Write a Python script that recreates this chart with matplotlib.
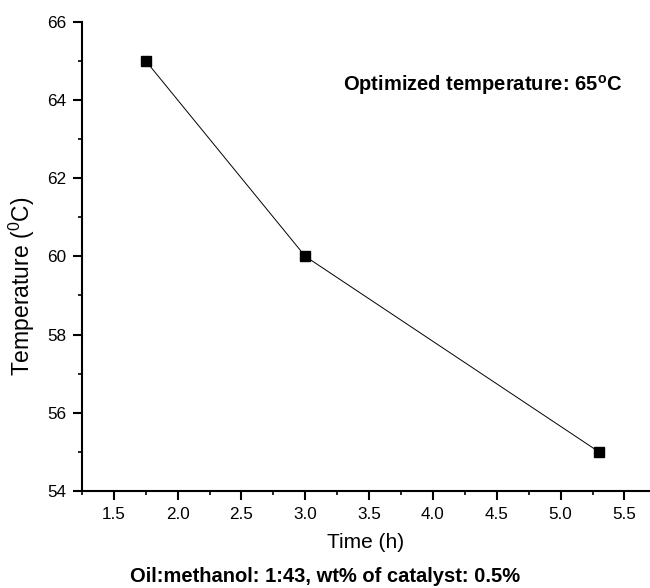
import matplotlib
matplotlib.use('Agg')
import matplotlib.pyplot as plt
from matplotlib.ticker import MultipleLocator

plt.rcParams['font.family'] = ['Liberation Sans', 'DejaVu Sans']
plt.rcParams['mathtext.fontset'] = 'custom'
plt.rcParams['mathtext.rm'] = 'Liberation Sans'
plt.rcParams['mathtext.bf'] = 'Liberation Sans:bold'

# datos
time_h = [1.75, 3.0, 5.3]
temp_c = [65, 60, 55]

fig = plt.figure(figsize=(6.5, 5.88), dpi=100)
ax = fig.add_axes([0.126, 0.165, 0.874, 0.798])

ax.plot(time_h, temp_c, color='black', linewidth=0.7, marker='s',
        markersize=7, markerfacecolor='black', markeredgecolor='black')

ax.set_xlim(1.25, 5.7)
ax.set_ylim(54, 66)
ax.xaxis.set_major_locator(MultipleLocator(0.5))
ax.xaxis.set_minor_locator(MultipleLocator(0.25))
ax.yaxis.set_major_locator(MultipleLocator(2))
ax.yaxis.set_minor_locator(MultipleLocator(1))

for s in ['top', 'right']:
    ax.spines[s].set_visible(False)
for s in ['left', 'bottom']:
    ax.spines[s].set_linewidth(1.5)

ax.tick_params(which='major', direction='out', length=6.5, width=1.5,
               labelsize=12.3, pad=5)
ax.tick_params(which='minor', direction='out', length=3, width=1.2)

ax.set_xlabel('Time (h)', fontsize=15, labelpad=8)
ax.set_ylabel('Temperature ($\\mathregular{^0}$C)', fontsize=16.5)
ax.yaxis.set_label_coords(-0.079, 0.437)

ax.text(0.951, 0.865, 'Optimized temperature: 65$\\mathregular{^o}$C',
        transform=ax.transAxes, ha='right', va='center',
        fontsize=14.5, fontweight='bold')

fig.text(0.5, 0.0102, 'Oil:methanol: 1:43, wt% of catalyst: 0.5%',
         ha='center', va='baseline', fontsize=14.5, fontweight='bold')

plt.savefig('out.png', dpi=100)
